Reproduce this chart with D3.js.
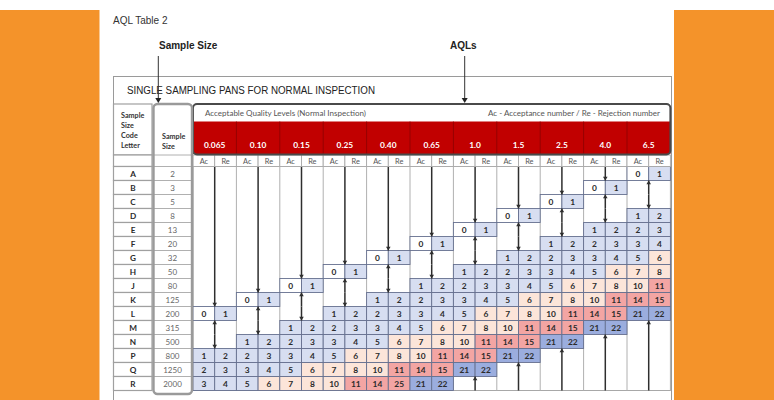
<!DOCTYPE html>
<html><head><meta charset="utf-8">
<script src="https://cdn.jsdelivr.net/npm/d3@7"></script>
<style>html,body{margin:0;padding:0;background:#fff;} svg{display:block;}</style>
</head><body>
<svg id="c" width="774" height="400"></svg>
<script>
// ---------- data ----------
const codeLetters = ["A","B","C","D","E","F","G","H","J","K","L","M","N","P","Q","R"];
const sampleSizes = [2,3,5,8,13,20,32,50,80,125,200,315,500,800,1250,2000];
const aqlLevels = ["0.065","0.10","0.15","0.25","0.40","0.65","1.0","1.5","2.5","4.0","6.5"];
const subHeaders = ["Ac","Re"];
const D = "down", U = "up";
// one entry per AQL level: [Ac, Re] or an arrow
const acRe = [
  [D,D,D,D,D,D,D,D,D,D,[0,1]],
  [D,D,D,D,D,D,D,D,D,[0,1],U],
  [D,D,D,D,D,D,D,D,[0,1],U,D],
  [D,D,D,D,D,D,D,[0,1],U,D,[1,2]],
  [D,D,D,D,D,D,[0,1],U,D,[1,2],[2,3]],
  [D,D,D,D,D,[0,1],U,D,[1,2],[2,3],[3,4]],
  [D,D,D,D,[0,1],U,D,[1,2],[2,3],[3,4],[5,6]],
  [D,D,D,[0,1],U,D,[1,2],[2,3],[3,4],[5,6],[7,8]],
  [D,D,[0,1],U,D,[1,2],[2,3],[3,4],[5,6],[7,8],[10,11]],
  [D,[0,1],U,D,[1,2],[2,3],[3,4],[5,6],[7,8],[10,11],[14,15]],
  [[0,1],U,D,[1,2],[2,3],[3,4],[5,6],[7,8],[10,11],[14,15],[21,22]],
  [U,D,[1,2],[2,3],[3,4],[5,6],[7,8],[10,11],[14,15],[21,22],U],
  [D,[1,2],[2,3],[3,4],[5,6],[7,8],[10,11],[14,15],[21,22],U,U],
  [[1,2],[2,3],[3,4],[5,6],[7,8],[10,11],[14,15],[21,22],U,U,U],
  [[2,3],[3,4],[5,6],[7,8],[10,11],[14,15],[21,22],U,U,U,U],
  [[3,4],[5,6],[7,8],[10,11],[14,25],[21,22],U,U,U,U,U]
];

// ---------- drawing ----------
const svg = d3.select("#c");
const BODY = "Lato, 'Open Sans', sans-serif";
const ARIAL = "'Liberation Sans', Arial, sans-serif";

const X0 = 193, X1 = 670.4;
const gx = d3.scaleBand().domain(aqlLevels).range([X0, X1]);
const sx = d3.scaleBand().domain(d3.range(aqlLevels.length * 2)).range([X0, X1]);
const y = d3.scaleBand().domain(codeLetters).range([166.5, 390.5]);
const rh = y.bandwidth();

// side panels
svg.append("rect").attr("x",0).attr("y",10).attr("width",99.5).attr("height",390).attr("fill","#f4932a");
svg.append("rect").attr("x",674).attr("y",10).attr("width",100).attr("height",390).attr("fill","#f4932a");

// captions
svg.append("text").attr("x",113).attr("y",23.5).attr("font-family",ARIAL).attr("font-size",10)
  .attr("fill","#333").text("AQL Table 2");
svg.append("text").attr("x",159).attr("y",49).attr("font-family",ARIAL).attr("font-size",10)
  .attr("font-weight","bold").attr("fill","#222").text("Sample Size");
svg.append("text").attr("x",450).attr("y",49).attr("font-family",ARIAL).attr("font-size",10)
  .attr("font-weight","bold").attr("fill","#222").text("AQLs");

// outer box
svg.append("rect").attr("x",113.5).attr("y",76.5).attr("width",558).attr("height",330)
  .attr("fill","#fff").attr("stroke","#9a9a9a").attr("stroke-width",1);
svg.append("text").attr("x",127).attr("y",93.5).attr("font-family",ARIAL).attr("font-size",10)
  .attr("fill","#222").attr("textLength",248).attr("lengthAdjust","spacingAndGlyphs")
  .text("SINGLE SAMPLING PANS FOR NORMAL INSPECTION");

// data area background + group lines
svg.append("rect").attr("x",X0).attr("y",y.range()[0]).attr("width",X1-X0).attr("height",rh*codeLetters.length)
  .attr("fill","#fff").attr("stroke","#a8a8a8").attr("stroke-width",1);
svg.append("g").selectAll("line").data(aqlLevels).join("line")
  .attr("x1",d=>gx(d)).attr("x2",d=>gx(d)).attr("y1",y.range()[0]).attr("y2",y.range()[1])
  .attr("stroke","#b0b0b0").attr("stroke-width",1);

function cellFill(v){
  if (v === 0) return "#ffffff";
  if (v <= 5) return "#d7def1";
  if (v <= 10) return "#fce5d9";
  if (v === 21 || v === 22) return "#9badde";
  return "#f3a5a3";
}

// value cells
const cells = [];
acRe.forEach((row, r) => row.forEach((e, j) => {
  if (Array.isArray(e)) e.forEach((v, k) => cells.push({r, col: 2*j + k, v}));
}));
const cg = svg.append("g");
cg.selectAll("rect").data(cells).join("rect")
  .attr("x",d=>sx(d.col)).attr("y",d=>y(codeLetters[d.r]))
  .attr("width",sx.bandwidth()).attr("height",rh)
  .attr("fill",d=>cellFill(d.v)).attr("stroke","#66708f").attr("stroke-width",0.9);
cg.selectAll("text").data(cells).join("text")
  .attr("x",d=>sx(d.col)+sx.bandwidth()/2).attr("y",d=>y(codeLetters[d.r])+rh/2+3)
  .attr("text-anchor","middle").attr("font-family",BODY).attr("font-weight","bold")
  .attr("font-size",8.4).attr("fill","#2b2b2b").text(d=>d.v);

// arrows
const runs = [];
aqlLevels.forEach((lvl, j) => {
  let r = 0;
  while (r < acRe.length) {
    const e = acRe[r][j];
    if (e === D || e === U) {
      let r2 = r;
      while (r2 + 1 < acRe.length && acRe[r2+1][j] === e) r2++;
      runs.push({j, dir: e, r1: r, r2});
      r = r2 + 1;
    } else r++;
  }
});
const ag = svg.append("g");
runs.forEach(d => {
  const x = sx(2*d.j + 1);
  const yt = y(codeLetters[d.r1]), yb = y(codeLetters[d.r2]) + rh;
  ag.append("line").attr("x1",x).attr("x2",x).attr("y1",yt).attr("y2",yb)
    .attr("stroke","#2e2e2e").attr("stroke-width",1.5);
  const tip = d.dir === D ? yb : yt, s = d.dir === D ? -1 : 1;
  ag.append("path").attr("d",`M${x-2.3},${tip+s*3.8}L${x+2.3},${tip+s*3.8}L${x},${tip}Z`)
    .attr("fill","#2e2e2e");
});

// Ac / Re header row
const subCols = d3.range(aqlLevels.length * 2);
const hg = svg.append("g");
hg.selectAll("rect").data(subCols).join("rect")
  .attr("x",d=>sx(d)).attr("y",155).attr("width",sx.bandwidth()).attr("height",166.5-155)
  .attr("fill","#fff").attr("stroke","#a8a8a8").attr("stroke-width",0.9);
hg.selectAll("text").data(subCols).join("text")
  .attr("x",d=>sx(d)+sx.bandwidth()/2).attr("y",164).attr("text-anchor","middle")
  .attr("font-family",BODY).attr("font-size",7.4).attr("fill","#555").text(d=>subHeaders[d%2]);

// AQL header box
svg.append("rect").attr("x",X0).attr("y",104).attr("width",X1-X0).attr("height",18).attr("fill","#fff");
svg.append("rect").attr("x",X0).attr("y",121.5).attr("width",X1-X0).attr("height",32.5).attr("fill","#c10000");
svg.append("g").selectAll("line").data(aqlLevels.slice(1)).join("line")
  .attr("x1",d=>gx(d)).attr("x2",d=>gx(d)).attr("y1",121.5).attr("y2",154)
  .attr("stroke","#8a0000").attr("stroke-width",0.8);
svg.append("g").selectAll("text").data(aqlLevels).join("text")
  .attr("x",d=>gx(d)+gx.bandwidth()/2).attr("y",148.3).attr("text-anchor","middle")
  .attr("font-family",BODY).attr("font-weight","bold").attr("font-size",8.4).attr("fill","#fff").text(d=>d);
svg.append("text").attr("x",205).attr("y",116).attr("font-family",BODY).attr("font-size",7.8)
  .attr("fill","#555").attr("textLength",161).attr("lengthAdjust","spacingAndGlyphs")
  .text("Acceptable Quality Levels (Normal Inspection)");
svg.append("text").attr("x",660).attr("y",116).attr("text-anchor","end").attr("font-family",BODY).attr("font-size",7.8)
  .attr("fill","#555").attr("textLength",172).attr("lengthAdjust","spacingAndGlyphs")
  .text("Ac - Acceptance number / Re - Rejection number");
svg.append("rect").attr("x",X0).attr("y",104).attr("width",X1-X0).attr("height",50.5).attr("rx",4)
  .attr("fill","none").attr("stroke","#4a4a4a").attr("stroke-width",2);

// code letter column
const lg = svg.append("g");
lg.append("rect").attr("x",113.5).attr("y",104).attr("width",38.5).attr("height",51)
  .attr("fill","#fff").attr("stroke","#a0a0a0").attr("stroke-width",1.2);
lg.append("rect").attr("x",113.5).attr("y",155).attr("width",38.5).attr("height",11.5)
  .attr("fill","#fff").attr("stroke","#a0a0a0").attr("stroke-width",1.2);
["Sample","Size","Code","Letter"].forEach((t,i)=>{
  lg.append("text").attr("x",121).attr("y",117.5 + i*10.2).attr("font-family",BODY)
    .attr("font-weight","bold").attr("font-size",7.2).attr("fill","#333").text(t);
});
lg.selectAll("rect.row").data(codeLetters).join("rect").attr("class","row")
  .attr("x",113.5).attr("y",d=>y(d)).attr("width",38.5).attr("height",rh)
  .attr("fill","#fff").attr("stroke","#a0a0a0").attr("stroke-width",1.2);
lg.selectAll("text.row").data(codeLetters).join("text").attr("class","row")
  .attr("x",133).attr("y",d=>y(d)+rh/2+3).attr("text-anchor","middle")
  .attr("font-family",BODY).attr("font-weight","bold").attr("font-size",8.2).attr("fill","#2b2b2b").text(d=>d);

// sample size column
const sg = svg.append("g");
sg.selectAll("line").data(codeLetters).join("line")
  .attr("x1",153.5).attr("x2",191.5).attr("y1",d=>y(d)).attr("y2",d=>y(d))
  .attr("stroke","#b0b0b0").attr("stroke-width",1);
sg.append("line").attr("x1",153.5).attr("x2",191.5).attr("y1",155).attr("y2",155)
  .attr("stroke","#b0b0b0").attr("stroke-width",1);
["Sample","Size"].forEach((t,i)=>{
  sg.append("text").attr("x",162).attr("y",138.5 + i*10).attr("font-family",BODY)
    .attr("font-weight","bold").attr("font-size",7.2).attr("fill","#333").text(t);
});
sg.selectAll("text.row").data(codeLetters).join("text").attr("class","row")
  .attr("x",172.5).attr("y",d=>y(d)+rh/2+3).attr("text-anchor","middle")
  .attr("font-family",BODY).attr("font-size",8).attr("fill","#666").text((d,i)=>sampleSizes[i]);
sg.append("rect").attr("x",153.5).attr("y",104).attr("width",38.5).attr("height",290).attr("rx",4)
  .attr("fill","none").attr("stroke","#9a9a9a").attr("stroke-width",2.4);

// pointer arrows
[[158.3, 56, 103], [464.7, 56, 103]].forEach(([x, y1, y2]) => {
  svg.append("line").attr("x1",x).attr("x2",x).attr("y1",y1).attr("y2",y2-4).attr("stroke","#333").attr("stroke-width",1);
  svg.append("path").attr("d",`M${x-3},${y2-5}L${x+3},${y2-5}L${x},${y2}Z`).attr("fill","#222");
});
</script>
</body></html>
